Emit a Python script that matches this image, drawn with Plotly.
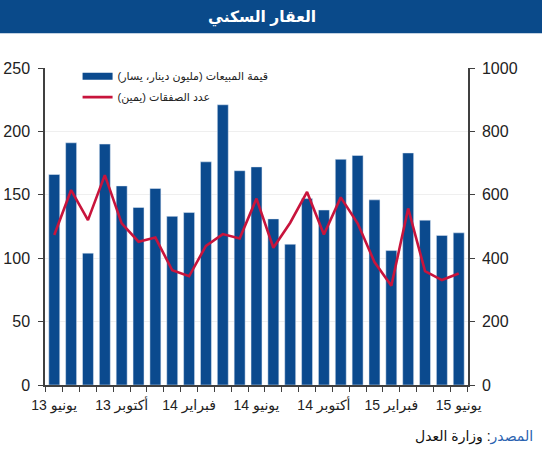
import plotly.graph_objects as go

# monthly data Jun 2013 - Jun 2015
months = list(range(25))
sales = [166, 191, 104, 190, 157, 140, 155, 133, 136, 176, 221, 169, 172,
         131, 111, 147, 138, 178, 181, 146, 106, 183, 130, 118, 120]
deals = [473, 615, 520, 662, 510, 452, 465, 362, 343, 439, 476, 462, 588,
         433, 512, 609, 475, 592, 510, 388, 313, 557, 359, 331, 352]

tick_pos = [0, 4, 8, 12, 16, 20, 24]
tick_txt = ["13 يونيو", "13 أكتوبر", "14 فبراير", "14 يونيو",
            "14 أكتوبر", "15 فبراير", "15 يونيو"]

blue = "#0b4a8e"
red = "#c8143c"
axcol = "#404040"
font = "Arial, DejaVu Sans, sans-serif"

fig = go.Figure()

fig.add_trace(go.Bar(x=months, y=sales, marker_color=blue, width=0.65,
                     showlegend=False, name="sales"))
fig.add_trace(go.Scatter(x=months, y=deals, yaxis="y2", mode="lines",
                         line=dict(color=red, width=2.6), showlegend=False,
                         name="deals"))

# legend entries (flat swatch like the original)
fig.add_trace(go.Scatter(x=[None], y=[None], mode="lines",
                         line=dict(color=blue, width=7), legendgroup="a",
                         name="قيمة المبيعات (مليون دينار، يسار)\u200f"))
fig.add_trace(go.Scatter(x=[None], y=[None], mode="lines",
                         line=dict(color=red, width=2.6), legendgroup="b",
                         name="عدد الصفقات (يمين)\u200f"))

# title band
fig.add_shape(type="rect", xref="paper", yref="paper",
              x0=-0.3, x1=1.4, y0=1.110, y1=1.4,
              fillcolor="#0a4a8a", line_width=0, layer="above")
fig.add_annotation(text="<b>العقار السكني</b>", xref="paper", yref="paper",
                   x=0.513, y=1.195, showarrow=False,
                   font=dict(size=15.5, color="white", family=font))

fig.add_annotation(text='<span style="color:#2a62b0">المصدر</span>: وزارة العدل',
                   xref="paper", yref="paper", x=1.158, y=-0.164,
                   xanchor="right", yanchor="middle", showarrow=False,
                   font=dict(size=14, color="#111", family=font))

fig.update_layout(
    width=542, height=450,
    margin=dict(l=45, r=74, t=68, b=65),
    paper_bgcolor="white", plot_bgcolor="white",
    font=dict(family=font, color="#222"),
    bargap=0.35,
    legend=dict(x=0.077, y=1.02, xanchor="left", yanchor="top",
                bgcolor="rgba(0,0,0,0)", font=dict(size=11),
                itemwidth=30, tracegroupgap=2),
    xaxis=dict(range=[-0.55, 24.55], tickmode="array", tickvals=tick_pos,
               ticktext=tick_txt, ticks="outside", ticklen=6,
               tickcolor="rgba(0,0,0,0)", showline=True, linecolor=axcol,
               linewidth=1.5, showgrid=False, zeroline=False,
               tickfont=dict(size=14), automargin=False,
               minor=dict(tick0=-0.5, dtick=1, ticks="outside", ticklen=5,
                          tickcolor=axcol, showgrid=False)),
    yaxis=dict(range=[0, 250], dtick=50, ticks="outside", ticklen=5,
               tickcolor=axcol, showline=True, linecolor=axcol, linewidth=1.5,
               gridcolor="#efefef", zeroline=False, tickfont=dict(size=16),
               ticklabelstandoff=5, automargin=False),
    yaxis2=dict(range=[0, 1000], dtick=200, overlaying="y", side="right",
                ticks="outside", ticklen=5, tickcolor=axcol, showline=True,
                linecolor=axcol, linewidth=1.5, showgrid=False,
                zeroline=False, tickfont=dict(size=16), ticklabelstandoff=4,
                automargin=False),
)

fig.write_html("out.html", config={"displayModeBar": False},
               post_script="document.body.style.margin='0px';")
